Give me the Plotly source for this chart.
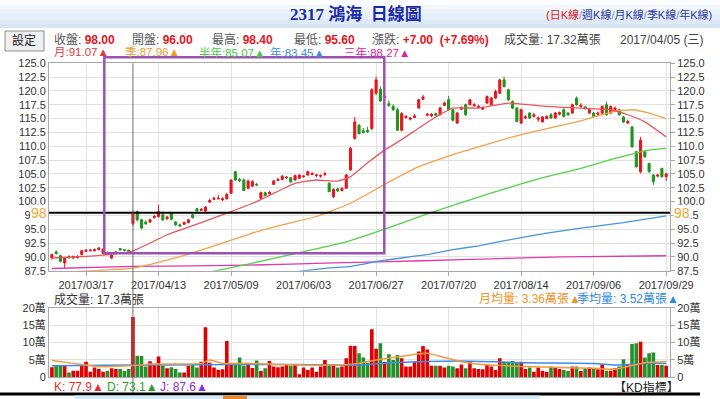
import plotly.graph_objects as go

# ---------------- data ----------------
date_tick_idx = [8, 25, 42, 59, 76, 93, 110, 127, 144]
date_ticks = ['2017/03/17', '2017/04/13', '2017/05/09', '2017/06/03', '2017/06/27',
              '2017/07/20', '2017/08/14', '2017/09/06', '2017/09/29']

open_ = [89.8, 90.9, 90.2, 88.9, 90.1, 89.8, 89.9, 90.4, 91.0, 91.1,
         91.1, 91.3, 90.6, 90.8, 89.8, 90.6, 91.5, 91.3, 91.2, 96.0,
         98.2, 96.7, 96.3, 96.3, 97.1, 97.3, 97.6, 96.9, 97.8, 96.3,
         95.8, 95.9, 96.2, 97.6, 98.7, 98.4, 98.3, 99.9, 100.4, 100.5,
         100.3, 100.5, 101.5, 105.4, 104.0, 103.9, 102.4, 102.8, 103.1, 100.6,
         101.6, 101.4, 103.1, 103.8, 104.0, 104.3, 104.3, 103.9, 104.2, 104.5,
         104.8, 104.9, 104.7, 104.6, 104.9, 103.3, 100.9, 102.3, 102.0, 102.4,
         105.7, 111.4, 113.8, 112.8, 112.9, 113.2, 119.6, 120.3, 118.8, 117.7,
         117.2, 116.6, 112.9, 115.2, 114.9, 115.2, 116.9, 118.5, 115.6, 115.5,
         115.9, 115.7, 117.4, 118.4, 116.6, 114.2, 116.7, 117.5, 117.5, 117.3,
         117.0, 116.7, 117.8, 117.5, 118.7, 119.6, 122.0, 120.2, 118.1, 116.9,
         114.2, 115.1, 116.0, 115.4, 114.9, 114.4, 115.0, 115.7, 115.1, 115.8,
         116.6, 116.0, 116.0, 118.7, 117.2, 117.1, 116.0, 116.0, 115.8, 116.0,
         117.5, 116.0, 116.6, 116.6, 115.3, 114.2, 113.5, 109.0, 105.4, 109.0,
         106.9, 104.8, 104.6, 106.0, 104.5]
high = [90.6, 91.2, 90.4, 90.0, 90.3, 90.2, 90.3, 91.3, 91.4, 91.4,
        91.5, 91.8, 91.6, 91.0, 90.5, 91.1, 91.6, 91.4, 91.3, 98.4,
        98.4, 96.9, 96.6, 96.9, 97.6, 99.4, 97.9, 97.4, 98.0, 96.5,
        96.0, 96.4, 96.9, 97.8, 98.9, 98.8, 99.2, 100.5, 100.9, 101.2,
        100.8, 101.6, 104.0, 105.5, 104.3, 104.2, 104.0, 103.9, 103.4, 101.8,
        101.8, 101.9, 103.9, 104.3, 104.8, 104.6, 104.4, 104.9, 104.9, 104.8,
        105.6, 105.3, 105.0, 104.9, 105.4, 103.5, 102.4, 102.5, 102.6, 105.0,
        109.9, 115.3, 114.0, 113.3, 113.5, 120.5, 122.6, 120.8, 119.5, 118.3,
        117.6, 117.0, 116.2, 115.6, 115.3, 115.8, 118.6, 119.3, 116.0, 116.0,
        116.1, 117.2, 118.1, 119.1, 116.8, 116.2, 117.2, 117.7, 118.6, 117.8,
        117.5, 117.2, 119.2, 118.9, 120.2, 122.2, 122.6, 120.4, 118.3, 117.1,
        116.8, 115.6, 116.2, 116.0, 115.4, 115.5, 115.6, 116.0, 116.2, 116.3,
        116.9, 116.2, 117.7, 119.0, 117.8, 117.3, 116.8, 116.2, 116.3, 117.4,
        118.1, 117.4, 117.2, 116.8, 115.5, 114.8, 113.7, 109.2, 111.7, 109.3,
        107.0, 105.0, 105.0, 106.1, 105.2]
low = [89.5, 90.4, 89.0, 87.9, 89.6, 89.6, 89.7, 90.3, 90.9, 91.0,
       91.0, 91.2, 90.5, 90.5, 89.6, 90.5, 91.1, 91.0, 90.9, 95.6,
       96.4, 95.0, 95.8, 96.1, 96.9, 97.1, 96.5, 96.7, 96.6, 95.6,
       95.4, 95.8, 96.1, 96.9, 98.2, 98.3, 98.2, 99.8, 100.3, 100.4,
       100.1, 100.4, 101.4, 103.8, 103.5, 101.9, 102.2, 102.6, 102.8, 100.5,
       101.0, 101.3, 103.0, 103.7, 103.9, 104.1, 103.3, 103.8, 104.1, 104.3,
       104.7, 104.8, 104.4, 104.3, 104.6, 101.7, 100.6, 101.7, 101.8, 102.3,
       105.6, 111.2, 112.1, 112.3, 112.4, 112.9, 119.2, 118.0, 118.5, 117.1,
       116.4, 112.8, 112.7, 115.0, 114.7, 115.1, 116.8, 118.4, 115.4, 115.3,
       115.5, 115.6, 117.3, 116.4, 114.5, 114.0, 116.6, 115.5, 117.4, 117.2,
       116.9, 116.6, 117.7, 117.4, 118.6, 119.4, 120.6, 118.2, 116.7, 114.3,
       114.0, 114.9, 114.9, 115.3, 114.4, 114.3, 114.9, 115.0, 115.0, 115.6,
       115.2, 115.5, 115.9, 117.3, 117.0, 116.6, 115.9, 115.2, 115.5, 115.8,
       115.5, 115.8, 116.4, 115.5, 114.2, 114.0, 109.7, 106.1, 105.1, 107.9,
       105.2, 103.0, 104.4, 104.3, 103.7]
close = [90.4, 90.6, 89.2, 89.8, 89.9, 90.1, 90.1, 91.1, 91.2, 91.2,
         91.3, 91.6, 91.4, 90.7, 90.3, 90.9, 91.3, 91.2, 91.0, 98.0,
         96.7, 95.2, 96.0, 96.7, 97.3, 98.2, 96.7, 97.2, 96.8, 95.8,
         95.6, 96.2, 96.7, 97.1, 98.3, 98.6, 99.0, 100.2, 100.6, 100.6,
         100.5, 101.3, 103.9, 103.9, 103.8, 102.0, 103.7, 103.6, 103.0, 101.6,
         101.1, 101.7, 103.7, 104.0, 104.6, 104.4, 103.6, 104.7, 104.8, 104.6,
         105.4, 105.1, 104.8, 104.7, 105.0, 101.8, 102.2, 101.9, 102.4, 104.8,
         109.6, 114.4, 112.3, 112.5, 112.6, 120.2, 122.0, 118.2, 119.0, 117.4,
         116.6, 112.9, 115.9, 115.4, 115.1, 115.5, 118.4, 118.9, 115.8, 115.8,
         115.6, 116.9, 117.8, 116.6, 114.7, 116.0, 117.0, 115.7, 118.4, 117.5,
         117.2, 116.9, 119.0, 118.7, 119.9, 122.0, 120.8, 118.4, 116.9, 114.5,
         116.6, 115.3, 115.1, 115.7, 115.1, 115.3, 115.4, 115.1, 116.0, 116.1,
         115.4, 115.7, 117.5, 117.5, 117.4, 116.8, 116.6, 115.4, 116.0, 117.2,
         115.7, 117.2, 116.9, 115.7, 114.4, 114.5, 109.9, 106.3, 111.1, 108.1,
         105.4, 103.6, 104.8, 104.5, 105.0]
volume = [2.9, 3.3, 3.3, 3.3, 1.4, 1.9, 1.9, 3.5, 4.5, 1.6,
          2.8, 2.4, 1.6, 1.8, 2.6, 2.4, 2.4, 1.8, 2.4, 17.32,
          6.2, 6.1, 3.1, 4.6, 3.5, 6.0, 3.3, 2.6, 2.9, 2.4,
          1.4, 1.4, 3.3, 3.5, 2.8, 4.5, 14.4, 4.2, 2.8, 2.2,
          2.3, 10.4, 3.9, 3.9, 5.7, 3.3, 3.7, 2.7, 4.8, 1.8,
          2.6, 4.7, 3.1, 2.9, 3.1, 3.5, 3.3, 3.5, 0.9, 2.8,
          2.1, 2.8, 1.6, 3.1, 5.0, 3.7, 3.7, 2.8, 3.1, 5.5,
          9.1, 9.0, 6.9, 5.7, 4.2, 13.8, 8.2, 9.8, 4.5, 6.6,
          5.0, 6.4, 5.5, 3.1, 3.1, 4.5, 7.4, 9.0, 8.0, 3.3,
          3.3, 3.3, 2.8, 3.3, 3.1, 2.6, 3.7, 2.6, 4.5, 2.6,
          2.4, 2.3, 3.8, 3.1, 2.1, 5.5, 4.5, 4.5, 4.7, 4.2,
          4.5, 2.4, 2.8, 1.6, 2.8, 1.9, 1.6, 3.1, 2.8, 2.4,
          2.1, 1.8, 3.1, 3.1, 1.8, 2.6, 2.8, 2.6, 2.3, 3.7,
          1.9, 1.9, 2.6, 3.1, 5.2, 3.5, 9.6, 9.8, 10.2, 5.7,
          6.9, 7.1, 3.5, 3.5, 3.3]

# moving averages (trading-day index, value)
ma_month_idx = [0, 6, 12, 19, 27, 35, 42, 48, 57, 62, 67, 70, 74, 78, 82, 86, 90, 94, 100, 107, 116, 124, 131, 135, 139, 144]
ma_month_val = [89.8, 90.0, 90.3, 91.07, 94.0, 96.2, 98.2, 100.0, 103.3, 103.9, 103.7, 104.5, 107.0, 109.3, 111.2, 113.3, 115.3, 116.9, 116.9, 117.8, 117.2, 116.9, 116.6, 115.7, 114.4, 111.7]
ma_quarter_idx = [0, 10, 19, 27, 35, 47, 54, 62, 70, 78, 86, 94, 100, 108, 116, 124, 128, 132, 136, 140, 144]
ma_quarter_val = [87.2, 87.5, 87.96, 89.4, 91.2, 94.3, 95.8, 97.3, 99.7, 103.1, 106.3, 108.5, 109.9, 111.7, 113.2, 114.6, 115.5, 116.3, 116.6, 116.0, 115.0]
ma_half_idx = [0, 19, 30, 38, 46, 57, 69, 78, 87, 94, 102, 110, 116, 124, 132, 140, 144]
ma_half_val = [84.9, 85.07, 86.2, 87.4, 88.7, 90.6, 92.7, 95.0, 97.5, 99.3, 101.3, 103.2, 104.5, 106.0, 107.8, 109.3, 109.6]
ma_year_idx = [0, 19, 40, 57, 65, 70, 78, 87, 94, 100, 110, 116, 124, 134, 144]
ma_year_val = [83.3, 83.45, 85.5, 87.3, 88.0, 88.3, 89.4, 90.3, 91.3, 92.0, 93.5, 94.3, 95.2, 96.2, 97.4]
ma_3y_idx = [0, 19, 46, 66, 87, 105, 120, 144]
ma_3y_val = [87.9, 88.27, 88.5, 88.9, 89.3, 89.7, 90.0, 90.2]

vma_month_idx = [0, 5, 11, 19, 23, 35, 37, 40, 46, 58, 66, 72, 76, 80, 88, 92, 96, 103, 111, 119, 127, 132, 135, 139, 144]
vma_month_val = [4.8, 4.0, 3.1, 3.36, 3.8, 4.0, 5.0, 4.0, 4.0, 3.5, 3.5, 4.0, 5.0, 5.7, 6.9, 5.7, 4.5, 3.5, 3.1, 2.8, 2.6, 2.3, 3.1, 4.2, 4.5]
vma_quarter_idx = [0, 19, 27, 42, 58, 72, 80, 96, 111, 127, 133, 139, 144]
vma_quarter_val = [3.3, 3.52, 3.5, 3.7, 3.7, 3.5, 4.2, 4.7, 4.2, 4.0, 3.5, 4.0, 4.0]

vol_ticks = [0, 5, 10, 15, 20]
vol_tick_text = ['0', '5萬', '10萬', '15萬', '20萬']

sel = 19  # highlighted day 2017/04/05 (三)

# ---------------- styling ----------------
W, H = 720, 399
def px(x):
    return x / W
def py(y):
    return 1 - y / H

FONT = 'Liberation Sans, Arial, Noto Sans CJK TC, DejaVu Sans, sans-serif'
RED = '#e8141c'
GREEN = '#1f931f'
C_MONTH = '#e8585a'
C_QUARTER = '#f5a04a'
C_HALF = '#55d04a'
C_YEAR = '#4a93e0'
C_3Y = '#e03aa8'

N = len(close)
idx = list(range(N))
XDOM = [px(49), px(670)]
XR = [-0.68, 144.9]

fig = go.Figure()

for ix, val, col in [(ma_3y_idx, ma_3y_val, C_3Y), (ma_year_idx, ma_year_val, C_YEAR),
                     (ma_half_idx, ma_half_val, C_HALF), (ma_quarter_idx, ma_quarter_val, C_QUARTER),
                     (ma_month_idx, ma_month_val, C_MONTH)]:
    fig.add_trace(go.Scatter(x=ix, y=val, mode='lines', xaxis='x', yaxis='y',
                             line=dict(color=col, width=1.3, shape='spline', smoothing=0.4),
                             hoverinfo='skip', showlegend=False))

fig.add_trace(go.Candlestick(x=idx, open=open_, high=high, low=low, close=close,
                             increasing=dict(line=dict(color=RED, width=1), fillcolor=RED),
                             decreasing=dict(line=dict(color=GREEN, width=1), fillcolor=GREEN),
                             xaxis='x', yaxis='y', hoverinfo='skip', showlegend=False))
fig.add_trace(go.Scatter(x=[idx[0]], y=[close[0]], mode='markers', marker=dict(opacity=0),
                         xaxis='x', yaxis='y3', hoverinfo='skip', showlegend=False))

vol_colors = ['#e00000' if c >= o else '#23902a' for o, c in zip(open_, close)]
fig.add_trace(go.Bar(x=idx, y=volume, marker=dict(color=vol_colors, line=dict(width=0)),
                     xaxis='x2', yaxis='y2', hoverinfo='skip', showlegend=False))
fig.add_trace(go.Scatter(x=vma_quarter_idx, y=vma_quarter_val, mode='lines', xaxis='x2', yaxis='y2',
                         line=dict(color='#3a8ee6', width=1.5, shape='spline', smoothing=0.5),
                         hoverinfo='skip', showlegend=False))
fig.add_trace(go.Scatter(x=vma_month_idx, y=vma_month_val, mode='lines', xaxis='x2', yaxis='y2',
                         line=dict(color='#f39a3c', width=1.5, shape='spline', smoothing=0.5),
                         hoverinfo='skip', showlegend=False))
fig.add_trace(go.Scatter(x=[idx[0]], y=[0], mode='markers', marker=dict(opacity=0),
                         xaxis='x2', yaxis='y4', hoverinfo='skip', showlegend=False))

GRID = '#e2e2e2'
LINE = '#a8a8a8'
axis_font = dict(family=FONT, size=11, color='#333')

fig.update_layout(
    width=W, height=H, margin=dict(l=0, r=0, t=0, b=0, pad=0, autoexpand=False),
    paper_bgcolor='white', plot_bgcolor='white', showlegend=False, bargap=0.15,
    font=dict(family=FONT, size=11, color='#333'),
    xaxis=dict(domain=XDOM, range=XR, anchor='y', tickmode='array', tickvals=date_tick_idx,
               ticktext=date_ticks, showgrid=True, gridcolor=GRID, ticks='outside', ticklen=4,
               tickcolor=LINE, showline=True, linecolor=LINE, mirror=True, zeroline=False,
               rangeslider=dict(visible=False), tickfont=axis_font, automargin=False),
    yaxis=dict(domain=[py(270.7), py(63.3)], range=[87.5, 125], tickmode='linear', tick0=87.5,
               dtick=2.5, tickformat='.1f', showgrid=True, gridcolor=GRID, showline=True,
               linecolor=LINE, mirror=True, zeroline=False, ticks='', tickfont=axis_font,
               automargin=False),
    yaxis3=dict(overlaying='y', side='right', anchor='x', range=[87.5, 125], tickmode='linear',
                tick0=87.5, dtick=2.5, tickformat='.1f', showgrid=False, ticks='outside',
                ticklen=4, tickcolor=LINE, zeroline=False, tickfont=axis_font, automargin=False),
    xaxis2=dict(domain=XDOM, range=XR, anchor='y2', tickmode='array', tickvals=date_tick_idx,
                showticklabels=False, showgrid=True, gridcolor=GRID, showline=True,
                linecolor=LINE, mirror=True, zeroline=False, ticks='', automargin=False),
    yaxis2=dict(domain=[py(377.3), py(307.7)], range=[0, 20], tickmode='array', tickvals=vol_ticks,
                ticktext=vol_tick_text, showgrid=True, gridcolor=GRID, showline=True,
                linecolor=LINE, mirror=True, zeroline=False, ticks='', tickfont=axis_font,
                automargin=False),
    yaxis4=dict(overlaying='y2', side='right', anchor='x2', range=[0, 20], tickmode='array',
                tickvals=vol_ticks, ticktext=vol_tick_text, showgrid=False, ticks='outside',
                ticklen=4, tickcolor=LINE, zeroline=False, tickfont=axis_font, automargin=False),
)

shapes = []
# header gradient band
grad = ['#fbfdff', '#f3f8fd', '#ebf3fa', '#e4eef8', '#dde9f5', '#d7e5f3']
for k, c in enumerate(grad):
    shapes.append(dict(type='rect', xref='paper', yref='paper', x0=0, x1=1,
                       y0=py(28 * (k + 1) / len(grad)), y1=py(28 * k / len(grad)),
                       fillcolor=c, line=dict(width=0), layer='below'))
# 設定 button
shapes.append(dict(type='rect', xref='paper', yref='paper', x0=px(5), x1=px(44), y0=py(51), y1=py(31),
                   fillcolor='#f0f0f0', line=dict(color='#8c8c8c', width=1)))
# current price line
shapes.append(dict(type='line', xref='paper', yref='y', x0=XDOM[0], x1=XDOM[1],
                   y0=close[sel], y1=close[sel], line=dict(color='black', width=2)))
# crosshair at selected day
shapes.append(dict(type='line', xref='x', yref='paper', x0=sel, x1=sel, y0=py(393), y1=py(63.3),
                   line=dict(color='#6e6e6e', width=1)))
# purple highlight box
shapes.append(dict(type='rect', xref='paper', yref='paper', x0=px(104.3), x1=px(384.3),
                   y0=py(253.3), y1=py(57.3), line=dict(color='#9b52b5', width=2.5),
                   fillcolor='rgba(0,0,0,0)'))
# bottom strip
shapes.append(dict(type='rect', xref='paper', yref='paper', x0=0, x1=px(700), y0=py(395.5), y1=py(392.5),
                   fillcolor='black', line=dict(width=0)))
shapes.append(dict(type='rect', xref='paper', yref='paper', x0=px(75), x1=px(540), y0=0, y1=py(395.5),
                   fillcolor='#d4eef9', line=dict(width=0)))
shapes.append(dict(type='rect', xref='paper', yref='paper', x0=px(223), x1=px(247), y0=0, y1=py(395.5),
                   fillcolor='#e8892e', line=dict(width=0)))
fig.update_layout(shapes=shapes)

ann = []
def txt(x, y, text, color='#333', size=12, xanchor='left', family=FONT, bg=None, yref='paper'):
    d = dict(x=px(x), y=(py(y) if yref == 'paper' else y), xref='paper', yref=yref, text=text,
             showarrow=False, xanchor=xanchor, yanchor='middle',
             font=dict(family=family, size=size, color=color))
    if bg:
        d['bgcolor'] = bg
        d['borderpad'] = 0
    ann.append(d)

txt(356, 14, '<b>2317 鴻海  日線圖</b>', color='#1a2aa8', size=17, xanchor='center',
    family='Liberation Serif, Noto Sans CJK TC, serif')
txt(714, 14, "<span style='color:#e8141c'>(日K線</span><span style='color:#8a8aa8'>/</span>"
             "<span style='color:#2c3a9e'>週K線</span><span style='color:#8a8aa8'>/</span>"
             "<span style='color:#2c3a9e'>月K線</span><span style='color:#8a8aa8'>/</span>"
             "<span style='color:#2c3a9e'>季K線</span><span style='color:#8a8aa8'>/</span>"
             "<span style='color:#2c3a9e'>年K線)</span>", size=11, xanchor='right')
txt(24.5, 41, '設定', color='#222', size=12, xanchor='center')

chg = close[sel] - close[sel - 1]
pct = chg / close[sel - 1] * 100
def lv(label, value):
    return f"<span style='color:#555'>{label}: </span><span style='color:{RED}'><b>{value}</b></span>"
txt(52, 39.5, lv('收盤', f'{close[sel]:.2f}'))
txt(130, 39.5, lv('開盤', f'{open_[sel]:.2f}'))
txt(210, 39.5, lv('最高', f'{high[sel]:.2f}'))
txt(292, 39.5, lv('最低', f'{low[sel]:.2f}'))
txt(370, 39.5, lv('漲跌', f'{chg:+.2f}  ({pct:+.2f}%)'))
txt(502, 39.5, f'成交量: {volume[sel]:.2f}萬張', color='#444')
txt(618, 39.5, '2017/04/05 (三)', color='#444')

txt(52, 52, '月:91.07▲', color='#e23a3a', size=11.5)
txt(123, 52, '季:87.96▲', color='#f39a2a', size=11.5)
txt(197, 52, '半年:85.07▲', color='#47c747', size=11.5)
txt(268, 52, '年:83.45▲', color='#3a8ee0', size=11.5)
txt(342, 52, '三年:88.27▲', color='#e0219a', size=11.5)

txt(39, close[sel], f'{close[sel]:.0f}', color='#f0a530', size=14, xanchor='center', bg='white', yref='y')
txt(682, close[sel], f'{close[sel]:.0f}', color='#f0a530', size=14, xanchor='center', bg='white', yref='y')

txt(52, 299, f'成交量: {volume[sel]:.1f}萬張', color='#333')
txt(477, 299, '月均量: 3.36萬張▲', color='#f0922a')
txt(575, 299, '季均量: 3.52萬張▲', color='#2f8ae0')

txt(52, 387, 'K: 77.9▲', color='#e23030')
txt(105, 387, 'D: 73.1▲', color='#2a9a2a')
txt(158, 387, 'J: 87.6▲', color='#8a2be2')
txt(612, 387, '【KD指標】', color='#222')

fig.update_layout(annotations=ann)
fig.write_html('out.html', config={'displayModeBar': False},
               post_script="document.body.style.margin='0px';document.body.style.overflow='hidden';")
